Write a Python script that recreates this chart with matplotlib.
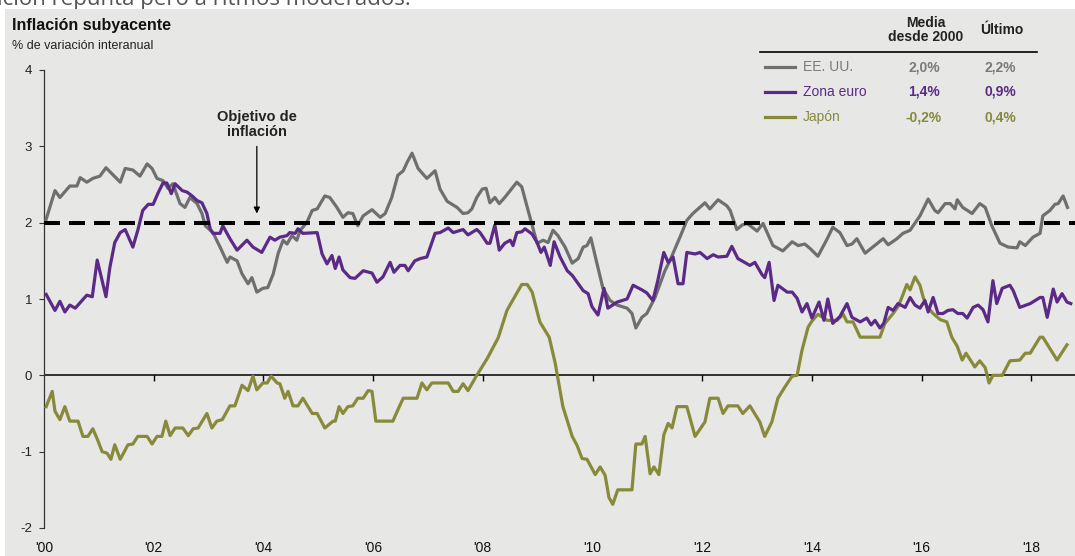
import matplotlib
matplotlib.use("Agg")
import matplotlib.pyplot as plt
import numpy as np
from matplotlib import font_manager
from matplotlib.lines import Line2D
from matplotlib.patches import Rectangle

plt.rcParams['lines.scale_dashes'] = False


def has_font(name):
    try:
        font_manager.findfont(name, fallback_to_default=False)
        return True
    except Exception:
        return False


NARROW = 'Liberation Sans Narrow' if has_font('Liberation Sans Narrow') else 'Liberation Sans'
SANS = 'Liberation Sans'

# ---------------- data (years since Jan 2000, % y/y) ----------------
us_t = [0.02, 0.20, 0.29, 0.47, 0.60, 0.66, 0.78, 0.89, 1.02, 1.13, 1.39, 1.48, 1.62, 1.75,
        1.88, 1.97, 2.06, 2.17, 2.26, 2.35, 2.48, 2.57, 2.66, 2.79, 2.88, 2.94, 3.08, 3.21,
        3.34, 3.39, 3.52, 3.61, 3.72, 3.79, 3.88, 3.99, 4.08, 4.18, 4.27, 4.36, 4.43, 4.52,
        4.61, 4.67, 4.79, 4.89, 4.98, 5.12, 5.21, 5.34, 5.45, 5.54, 5.63, 5.72, 5.82, 5.98,
        6.13, 6.22, 6.34, 6.45, 6.55, 6.62, 6.71, 6.82, 6.98, 7.13, 7.22, 7.35, 7.53, 7.64,
        7.73, 7.80, 7.89, 7.99, 8.06, 8.13, 8.22, 8.30, 8.40, 8.50, 8.62, 8.71, 8.86, 8.99,
        9.10, 9.19, 9.28, 9.37, 9.50, 9.63, 9.74, 9.83, 9.90, 9.97, 10.08, 10.19, 10.32,
        10.45, 10.63, 10.72, 10.79, 10.90, 10.99, 11.14, 11.32, 11.41, 11.60, 11.72, 11.83,
        12.05, 12.14, 12.29, 12.45, 12.51, 12.63, 12.73, 12.82, 13.00, 13.11, 13.29, 13.47,
        13.64, 13.75, 13.87, 13.97, 14.11, 14.28, 14.38, 14.51, 14.64, 14.73, 14.82, 14.97,
        15.11, 15.30, 15.39, 15.55, 15.66, 15.79, 15.97, 16.12, 16.24, 16.30, 16.43, 16.52,
        16.61, 16.65, 16.75, 16.92, 17.06, 17.16, 17.28, 17.43, 17.58, 17.74, 17.79, 17.89,
        18.03, 18.16, 18.21, 18.34, 18.43, 18.49, 18.58, 18.66]
us_v = [2.00, 2.42, 2.33, 2.48, 2.48, 2.59, 2.53, 2.58, 2.61, 2.72, 2.53, 2.71, 2.69, 2.61,
        2.77, 2.71, 2.58, 2.55, 2.45, 2.51, 2.25, 2.20, 2.33, 2.25, 2.12, 1.96, 1.87, 1.68,
        1.48, 1.55, 1.50, 1.33, 1.20, 1.28, 1.09, 1.14, 1.15, 1.33, 1.60, 1.77, 1.72, 1.83,
        1.77, 1.90, 2.00, 2.16, 2.18, 2.35, 2.33, 2.20, 2.07, 2.13, 2.12, 1.96, 2.09, 2.17,
        2.07, 2.12, 2.33, 2.62, 2.68, 2.79, 2.91, 2.71, 2.58, 2.68, 2.44, 2.28, 2.20, 2.12,
        2.13, 2.18, 2.33, 2.44, 2.45, 2.26, 2.33, 2.25, 2.33, 2.42, 2.53, 2.47, 2.07, 1.73,
        1.77, 1.74, 1.90, 1.83, 1.68, 1.47, 1.53, 1.68, 1.70, 1.80, 1.47, 1.14, 0.98,
        0.92, 0.88, 0.81, 0.62, 0.76, 0.81, 1.02, 1.37, 1.50, 1.82, 2.03, 2.12,
        2.26, 2.18, 2.30, 2.22, 2.16, 1.91, 1.97, 1.99, 1.89, 1.99, 1.70, 1.63,
        1.75, 1.70, 1.72, 1.66, 1.56, 1.79, 1.94, 1.87, 1.70, 1.72, 1.79, 1.60,
        1.68, 1.79, 1.71, 1.79, 1.86, 1.90, 2.09, 2.31, 2.16, 2.13, 2.25, 2.25,
        2.18, 2.30, 2.20, 2.12, 2.25, 2.20, 1.96, 1.73, 1.68, 1.67, 1.75, 1.70,
        1.81, 1.86, 2.09, 2.16, 2.24, 2.25, 2.35, 2.20]

eu_t = [0.04, 0.20, 0.29, 0.38, 0.47, 0.57, 0.78, 0.88, 0.97, 1.13, 1.20, 1.29, 1.39, 1.48,
        1.62, 1.71, 1.80, 1.90, 1.99, 2.08, 2.17, 2.24, 2.32, 2.39, 2.52, 2.61, 2.70, 2.79,
        2.88, 2.97, 3.03, 3.08, 3.21, 3.26, 3.39, 3.52, 3.70, 3.81, 3.97, 4.12, 4.21, 4.30,
        4.43, 4.48, 4.58, 4.63, 4.72, 4.98, 5.07, 5.16, 5.25, 5.31, 5.38, 5.45, 5.58, 5.67,
        5.82, 5.98, 6.07, 6.18, 6.31, 6.38, 6.49, 6.58, 6.64, 6.76, 6.86, 6.98, 7.13, 7.22,
        7.37, 7.46, 7.64, 7.73, 7.89, 7.95, 8.08, 8.13, 8.22, 8.30, 8.40, 8.50, 8.55, 8.62,
        8.71, 8.77, 8.90, 8.99, 9.06, 9.12, 9.23, 9.30, 9.41, 9.54, 9.63, 9.72, 9.83, 9.92,
        9.99, 10.10, 10.21, 10.28, 10.45, 10.63, 10.74, 10.90, 10.99, 11.10, 11.19, 11.30,
        11.38, 11.47, 11.56, 11.65, 11.72, 11.87, 11.96, 12.09, 12.20, 12.29, 12.45, 12.54,
        12.65, 12.87, 12.96, 13.09, 13.14, 13.22, 13.31, 13.38, 13.55, 13.64, 13.73, 13.82,
        13.91, 14.00, 14.13, 14.22, 14.29, 14.38, 14.51, 14.64, 14.73, 14.88, 15.00, 15.08,
        15.15, 15.24, 15.31, 15.39, 15.48, 15.57, 15.70, 15.79, 15.88, 15.97, 16.06, 16.12,
        16.21, 16.30, 16.39, 16.48, 16.57, 16.66, 16.75, 16.83, 16.94, 17.03, 17.12, 17.21,
        17.30, 17.37, 17.47, 17.61, 17.67, 17.79, 17.98, 18.16, 18.21, 18.29, 18.40, 18.47,
        18.56, 18.65, 18.72]
eu_v = [1.06, 0.85, 0.97, 0.83, 0.92, 0.88, 1.05, 1.03, 1.51, 1.03, 1.41, 1.74, 1.87, 1.91,
        1.68, 1.90, 2.16, 2.24, 2.24, 2.39, 2.52, 2.52, 2.38, 2.51, 2.42, 2.40, 2.35, 2.29,
        2.26, 2.12, 1.92, 1.86, 1.86, 1.96, 1.79, 1.64, 1.77, 1.68, 1.61, 1.81, 1.77, 1.81,
        1.83, 1.87, 1.86, 1.92, 1.86, 1.87, 1.59, 1.46, 1.57, 1.40, 1.55, 1.38, 1.28, 1.27,
        1.37, 1.34, 1.22, 1.29, 1.48, 1.35, 1.44, 1.44, 1.37, 1.50, 1.53, 1.55, 1.86, 1.87,
        1.93, 1.87, 1.91, 1.84, 1.91, 1.87, 1.73, 1.73, 1.97, 1.64, 1.73, 1.77, 1.70, 1.87,
        1.88, 1.92, 1.85, 1.74, 1.61, 1.68, 1.44, 1.75, 1.55, 1.37, 1.31, 1.22, 1.11, 1.07,
        0.90, 0.79, 1.14, 0.88, 0.96, 1.00, 1.18, 1.12, 1.08, 0.98, 1.24, 1.61,
        1.48, 1.55, 1.20, 1.20, 1.61, 1.59, 1.61, 1.53, 1.58, 1.55, 1.56, 1.69,
        1.53, 1.44, 1.48, 1.32, 1.28, 1.48, 0.98, 1.18, 1.09, 1.09, 1.01, 0.83,
        0.94, 0.75, 0.96, 0.72, 1.00, 0.68, 0.77, 0.94, 0.76, 0.70, 0.75, 0.66,
        0.72, 0.62, 0.68, 0.89, 0.85, 0.94, 0.89, 1.02, 0.92, 0.88, 0.98, 0.83,
        1.02, 0.81, 0.81, 0.85, 0.86, 0.81, 0.81, 0.75, 0.89, 0.92, 0.86, 0.70,
        1.24, 0.94, 1.14, 1.18, 1.11, 0.89, 0.94, 1.02, 1.02, 0.76, 1.13, 0.96,
        1.07, 0.96, 0.94]

jp_t = [0.04, 0.15, 0.20, 0.29, 0.38, 0.47, 0.62, 0.71, 0.80, 0.89, 0.98, 1.06, 1.15, 1.22,
        1.29, 1.39, 1.53, 1.62, 1.71, 1.88, 1.97, 2.06, 2.15, 2.22, 2.30, 2.39, 2.53, 2.63,
        2.72, 2.81, 2.97, 3.06, 3.15, 3.25, 3.39, 3.48, 3.61, 3.72, 3.81, 3.88, 3.99, 4.07,
        4.14, 4.25, 4.30, 4.39, 4.45, 4.54, 4.63, 4.72, 4.89, 4.98, 5.12, 5.27, 5.31, 5.38,
        5.45, 5.54, 5.63, 5.72, 5.82, 5.91, 5.98, 6.05, 6.36, 6.49, 6.55, 6.80, 6.89, 6.98,
        7.07, 7.37, 7.46, 7.55, 7.64, 7.73, 7.89, 8.08, 8.28, 8.44, 8.55, 8.71, 8.81, 8.90,
        9.04, 9.21, 9.32, 9.46, 9.63, 9.72, 9.81, 9.90, 10.05, 10.14, 10.23, 10.30, 10.37,
        10.46, 10.72, 10.79, 10.90, 10.96, 11.05, 11.12, 11.21, 11.30, 11.38, 11.45, 11.54,
        11.72, 11.87, 12.05, 12.14, 12.29, 12.38, 12.47, 12.65, 12.74, 12.87, 13.05, 13.14,
        13.27, 13.38, 13.51, 13.64, 13.73, 13.82, 13.93, 14.00, 14.11, 14.28, 14.46, 14.57,
        14.64, 14.75, 14.88, 15.24, 15.33, 15.48, 15.57, 15.64, 15.73, 15.79, 15.88, 15.97,
        16.03, 16.10, 16.21, 16.34, 16.46, 16.55, 16.65, 16.74, 16.81, 16.97, 17.06, 17.16,
        17.23, 17.30, 17.47, 17.61, 17.79, 17.89, 17.98, 18.16, 18.21, 18.47, 18.65]
jp_v = [-0.41, -0.21, -0.47, -0.58, -0.41, -0.60, -0.60, -0.80, -0.80, -0.70, -0.85, -1.00,
        -1.02, -1.10, -0.91, -1.10, -0.91, -0.90, -0.80, -0.80, -0.90, -0.80, -0.80, -0.60,
        -0.79, -0.69, -0.69, -0.79, -0.70, -0.69, -0.50, -0.69, -0.60, -0.58, -0.40, -0.40,
        -0.13, -0.20, -0.01, -0.19, -0.10, -0.10, -0.01, -0.10, -0.11, -0.30, -0.21, -0.40,
        -0.40, -0.30, -0.50, -0.50, -0.69, -0.60, -0.60, -0.41, -0.50, -0.41, -0.40, -0.30,
        -0.30, -0.20, -0.21, -0.60, -0.60, -0.39, -0.30, -0.30, -0.10, -0.19, -0.10, -0.10,
        -0.21, -0.21, -0.11, -0.20, 0.00, 0.22, 0.49, 0.85, 0.99, 1.19, 1.19, 1.09, 0.70,
        0.50, 0.16, -0.41, -0.80, -0.92, -1.09, -1.10, -1.30, -1.20, -1.31, -1.60, -1.69,
        -1.50, -1.50, -0.90, -0.90, -0.80, -1.29, -1.20, -1.30, -0.78, -0.63, -0.69, -0.41,
        -0.41, -0.80, -0.61, -0.30, -0.30, -0.50, -0.40, -0.40, -0.50, -0.40, -0.61, -0.80,
        -0.61, -0.30, -0.15, -0.01, 0.00, 0.33, 0.63, 0.71, 0.80, 0.72, 0.72, 0.80,
        0.70, 0.70, 0.50, 0.50, 0.68, 0.81, 0.90, 1.02, 1.19, 1.12, 1.29, 1.18,
        1.02, 0.90, 0.81, 0.73, 0.70, 0.50, 0.38, 0.20, 0.29, 0.11, 0.19, 0.10,
        -0.10, 0.00, 0.00, 0.19, 0.20, 0.29, 0.29, 0.50, 0.50, 0.20, 0.40]

target = 2.0
yticks = [-2, -1, 0, 1, 2, 3, 4]
xtick_years = [2000, 2002, 2004, 2006, 2008, 2010, 2012, 2014, 2016, 2018]
xtick_labels = ["'00", "'02", "'04", "'06", "'08", "'10", "'12", "'14", "'16", "'18"]

series_names = ['EE. UU.', 'Zona euro', 'Japón']
series_avg = ['2,0%', '1,4%', '-0,2%']
series_last = ['2,2%', '0,9%', '0,4%']

# ---------------- styling ----------------
GRAY = '#6f6f6f'
PURPLE = '#5b2a86'
OLIVE = '#878a3b'
GRAY_TXT = '#7a7a7a'
BG = '#e7e7e5'
colors = [GRAY, PURPLE, OLIVE]
text_colors = [GRAY_TXT, PURPLE, OLIVE]

W, H = 1075, 556
fig = plt.figure(figsize=(W / 100, H / 100), dpi=100, facecolor='white')


def fx(px):
    return px / W


def fy(py):
    return 1 - py / H


# cut-off heading of the page above the chart (only its lower edge is visible)
fig.text(fx(-3), fy(5), 'ición repunta pero a ritmos moderados.', fontsize=16,
         color='#555555', family='Open Sans', va='baseline', ha='left', zorder=-3)
# grey panel
fig.add_artist(Rectangle((fx(5), 0), 1 - fx(5), fy(9), transform=fig.transFigure,
                         facecolor=BG, edgecolor='none', zorder=-1))

ax = fig.add_axes([fx(44), 28 / H, (W - 44) / W, 458 / H])
ax.patch.set_visible(False)
ax.set_xlim(2000, 2000 + (W - 44) / 54.85)
ax.set_ylim(-2, 4)

for s in ['top', 'right', 'bottom']:
    ax.spines[s].set_visible(False)
ax.spines['left'].set_color('#333333')
ax.spines['left'].set_linewidth(0.9)

ax.axhline(0, color='black', lw=1.1, zorder=2)
ax.vlines(xtick_years[1:], -0.07, 0, color='black', lw=1.0, zorder=2)

ax.plot(2000 + np.array(jp_t), jp_v, color=OLIVE, lw=2.3, solid_joinstyle='round', zorder=3)
ax.plot(2000 + np.array(us_t), us_v, color=GRAY, lw=2.3, solid_joinstyle='round', zorder=4)
ax.plot(2000 + np.array(eu_t), eu_v, color=PURPLE, lw=2.3, solid_joinstyle='round', zorder=5)

ax.axhline(target, color='black', lw=2.9, dashes=(11.5, 6.5), dash_capstyle='butt', zorder=6)

ax.set_yticks(yticks)
ax.set_yticklabels([str(v) for v in yticks])
ax.tick_params(axis='y', direction='out', length=3.6, width=0.8, pad=5,
               labelsize=9.5, labelcolor='#222222', color='#333333')
for lab in ax.get_yticklabels():
    lab.set_family(SANS)

ax.set_xticks(xtick_years)
ax.set_xticklabels(xtick_labels)
ax.tick_params(axis='x', length=0, pad=9, labelsize=10, labelcolor='#111111')
for lab in ax.get_xticklabels():
    lab.set_family(NARROW)

ax.annotate('Objetivo de\ninflación', xy=(2003.88, 2.12), xytext=(2003.88, 3.09),
            ha='center', va='bottom', fontsize=10.5, fontweight='bold', family=NARROW,
            color='#222222', linespacing=1.1,
            arrowprops=dict(arrowstyle='-|>', color='black', lw=0.9,
                            mutation_scale=9, shrinkA=3, shrinkB=0))

# titles
fig.text(fx(12), fy(30), 'Inflación subyacente', fontsize=11.5, fontweight='bold',
         family=SANS, va='baseline', ha='left', color='#111111')
fig.text(fx(12), fy(49), '% de variación interanual', fontsize=9, family=SANS,
         va='baseline', ha='left', color='#222222')

# legend table
fig.text(fx(926), fy(30), 'Media\ndesde 2000', fontsize=10, fontweight='bold',
         family=SANS, ha='center', va='center', color='#222222', linespacing=1.05)
fig.text(fx(1002), fy(30), 'Último', fontsize=10, fontweight='bold',
         family=SANS, ha='center', va='center', color='#222222')
fig.add_artist(Line2D([fx(760), fx(1037)], [fy(52), fy(52)], color='black', lw=1.2,
                      transform=fig.transFigure))
row_y = [67, 92, 117]
for name, avg, last, c, tc, ry in zip(series_names, series_avg, series_last,
                                      colors, text_colors, row_y):
    fig.add_artist(Line2D([fx(765), fx(795)], [fy(ry), fy(ry)], color=c, lw=2.3,
                          transform=fig.transFigure))
    fig.text(fx(803), fy(ry), name, fontsize=10, family=SANS, color=tc,
             ha='left', va='center')
    fig.text(fx(924), fy(ry), avg, fontsize=10, family=SANS, fontweight='bold',
             color=tc, ha='center', va='center')
    fig.text(fx(1000), fy(ry), last, fontsize=10, family=SANS, fontweight='bold',
             color=tc, ha='center', va='center')

fig.savefig('out.png', dpi=100, facecolor='white')
